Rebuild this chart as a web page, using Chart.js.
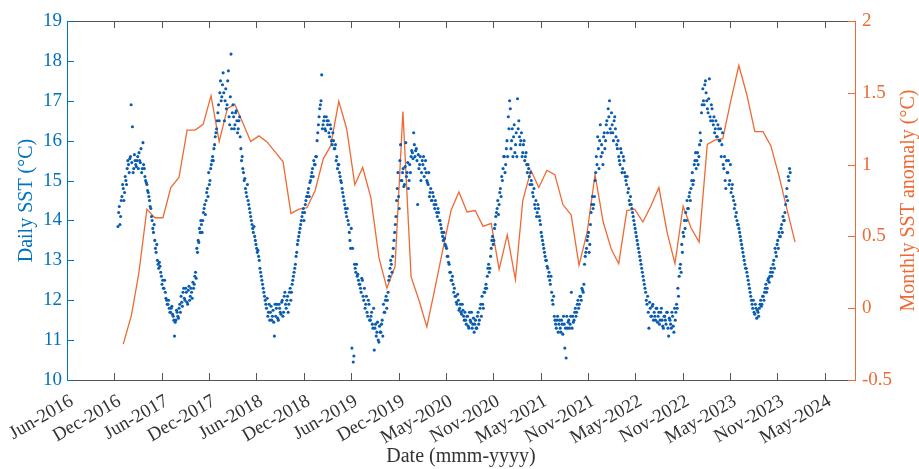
<!DOCTYPE html>
<html><head><meta charset="utf-8">
<script src="https://cdn.jsdelivr.net/npm/chart.js@4.4.1/dist/chart.umd.min.js"></script>
<style>html,body{margin:0;padding:0;background:#fff}#wrap{width:919px;height:469px}</style>
</head><body><div id="wrap"><canvas id="c" width="919" height="469"></canvas></div>
<script>
// ---------------- data ----------------
const tickLabels = ['Jun-2016','Dec-2016','Jun-2017','Dec-2017','Jun-2018','Dec-2018','Jun-2019','Dec-2019',
  'May-2020','Nov-2020','May-2021','Nov-2021','May-2022','Nov-2022','May-2023','Nov-2023','May-2024'];

// daily SST (°C): first sample date, sampling step (days); second set sampled midway between the first
const dailyStart = [2016, 12, 12];
const dailyStepDays = 5;
const dailySST = [
13.85,14.35,14.1,14.6,14.8,14.7,15.0,15.3,
15.4,15.55,16.9,16.35,15.3,15.5,15.35,15.6,
15.7,15.45,15.2,15.95,15.3,15.0,14.9,14.7,
14.5,14.3,14.0,13.7,13.5,13.2,13.0,12.8,
12.85,12.6,12.5,12.3,12.2,12.0,11.9,11.8,
11.7,11.85,11.6,11.1,11.5,11.7,11.55,11.9,
12.1,11.85,12.3,12.0,12.2,11.9,12.35,12.1,
12.2,12.45,12.4,12.7,13.3,13.5,13.8,14.0,
13.7,14.2,14.4,14.5,14.8,15.2,15.0,15.4,
15.6,15.8,16.1,16.3,16.7,16.5,17.5,17.1,
17.7,16.5,17.3,16.9,17.75,16.4,18.17,16.7,
16.6,16.4,16.75,16.2,16.5,16.1,15.5,15.3,
15.0,14.8,14.6,14.5,14.3,14.1,13.9,13.7,
13.6,13.4,13.2,13.1,12.8,12.6,12.4,12.2,
12.0,11.8,11.6,11.9,11.7,11.5,11.75,11.1,
11.6,11.9,11.5,11.8,11.65,12.0,11.7,12.2,
11.8,12.1,11.9,12.3,12.2,12.5,12.7,12.9,
13.2,13.5,13.7,13.9,14.1,14.3,14.2,14.5,
14.6,14.8,14.95,15.1,15.3,15.5,15.4,15.6,
16.2,16.6,16.9,17.65,16.4,16.6,16.25,16.5,
16.5,16.1,16.3,15.9,16.0,15.8,15.5,15.3,
15.4,15.1,14.95,14.7,14.5,14.3,14.1,14.0,
13.7,13.3,10.8,10.45,12.9,12.7,12.6,12.5,
12.4,12.2,12.5,12.0,11.8,12.1,11.6,11.9,
11.5,11.7,11.3,10.75,11.4,11.2,11.0,11.35,
11.2,11.5,11.9,11.7,12.1,12.0,12.5,12.8,
12.9,13.1,13.5,13.9,14.5,15.2,14.3,15.9,
15.0,15.3,14.9,15.95,15.2,14.8,15.4,15.6,
15.7,16.2,15.6,15.8,14.4,15.3,15.6,15.2,
15.4,15.1,15.5,15.0,14.9,14.6,14.8,14.5,
14.6,14.3,14.4,14.1,14.2,14.0,13.8,13.6,
13.7,13.4,13.3,13.1,12.9,12.7,12.5,12.4,
12.3,12.1,11.9,12.0,11.8,11.7,11.9,11.6,
11.7,11.4,11.6,11.3,11.5,11.7,11.4,11.2,
11.5,11.3,11.7,11.5,11.9,12.1,11.8,12.2,
12.4,12.6,12.9,12.8,13.3,13.6,13.5,13.9,
14.2,14.5,14.4,14.8,15.1,15.3,15.6,15.4,
16.0,16.6,17.0,15.8,16.3,16.1,15.7,16.2,
17.05,16.5,15.9,16.2,15.7,16.0,15.6,15.4,
15.4,15.1,15.2,14.9,14.6,14.4,14.5,14.2,
14.3,14.0,13.7,13.5,13.3,13.1,13.0,12.8,
12.7,12.4,12.2,11.9,11.6,11.4,11.5,11.2,
11.5,11.2,11.4,11.6,10.8,10.55,11.3,11.5,
11.4,12.2,11.6,11.5,11.8,11.7,12.0,11.9,
12.1,12.3,12.2,12.9,13.2,13.5,13.7,13.4,
14.2,14.6,14.4,15.0,15.6,16.1,15.3,16.4,
15.9,15.4,16.2,16.0,16.5,16.8,17.0,16.2,
16.4,16.0,16.6,16.1,15.8,15.6,15.4,15.7,
15.3,15.5,15.1,14.9,14.7,14.5,14.6,14.3,
14.1,13.9,13.7,13.5,13.3,13.1,12.9,12.7,
12.5,12.3,12.0,12.1,11.3,11.8,11.6,11.9,
11.7,11.5,11.8,11.6,11.4,11.7,11.5,11.3,
11.6,11.4,11.7,11.1,11.5,11.3,11.6,11.2,
11.5,11.9,12.3,12.6,12.9,13.4,13.7,14.0,
14.2,14.5,14.3,14.7,14.8,15.2,15.0,15.5,
15.3,15.7,15.6,16.2,16.7,17.3,16.9,17.5,
17.0,16.7,17.55,16.5,16.8,16.4,16.2,16.5,
16.1,16.3,16.0,15.6,16.2,15.3,15.0,15.5,
15.2,14.9,15.4,14.8,14.6,14.3,14.1,14.0,
13.9,13.7,13.5,13.3,13.1,12.9,12.8,12.6,
12.4,12.2,12.0,11.8,11.7,11.9,11.55,11.7,
11.8,12.0,11.9,12.1,12.2,12.4,12.3,12.55,
12.6,12.8,12.7,13.0,13.3,13.1,13.5,13.7,
13.6,13.9,14.1,14.0,14.4,14.8,15.1,15.3
];
const dailySSTMid = [
14.2,13.9,14.5,14.9,14.5,15.1,14.9,15.5,
15.2,15.6,15.45,15.2,15.65,15.4,15.5,15.3,
15.5,15.8,15.3,15.4,15.1,14.95,14.75,14.6,
14.35,14.1,13.8,13.9,13.3,13.4,12.9,12.95,
12.7,12.4,12.3,12.5,12.05,11.9,12.0,11.7,
11.8,11.65,11.5,11.45,11.75,11.6,11.8,11.7,
11.95,12.2,12.05,12.3,11.95,12.25,12.0,12.3,
12.05,12.3,12.6,12.55,13.2,13.45,13.7,13.9,
14.0,14.3,14.15,14.7,14.6,14.9,15.3,15.5,
15.5,15.9,16.2,16.5,16.9,17.2,17.0,17.4,
17.2,17.0,16.8,17.5,16.6,17.1,16.3,16.9,
16.3,16.7,16.5,16.3,16.6,15.8,15.6,15.2,
15.05,14.7,14.9,14.4,14.2,14.0,13.8,13.85,
13.5,13.3,13.25,13.0,12.7,12.5,12.3,12.1,
11.9,12.05,11.7,11.5,11.85,11.6,11.45,11.9,
11.8,11.55,11.9,11.7,11.95,11.6,12.1,11.9,
12.0,11.7,12.2,12.0,12.4,12.6,12.8,13.1,
13.4,13.6,13.8,14.0,14.2,14.0,14.4,14.6,
14.7,14.6,15.0,15.2,15.1,15.4,15.6,16.0,
16.4,16.8,17.0,16.3,16.5,16.3,16.6,16.4,
16.2,16.4,16.0,16.2,15.8,15.9,15.6,15.4,
15.2,15.0,14.8,14.6,14.4,14.2,14.3,13.9,
13.5,13.8,13.3,10.6,12.8,12.9,12.65,12.4,
12.3,12.55,12.1,12.3,11.9,11.7,12.0,11.5,
11.6,11.4,11.8,11.3,11.1,11.45,10.95,11.2,
11.4,11.1,11.7,12.0,11.8,12.2,12.6,13.0,
12.7,13.3,13.7,14.1,14.8,14.6,15.5,15.0,
15.2,14.85,15.35,15.1,15.45,15.0,15.2,15.75,
15.55,15.9,15.75,15.5,15.65,15.4,15.0,15.5,
15.6,15.3,15.2,14.95,15.2,14.7,14.5,14.7,
14.4,14.5,14.2,14.3,14.0,13.9,13.7,13.5,
13.55,13.35,13.1,12.95,12.7,12.5,12.6,12.2,
12.1,11.95,12.15,11.75,11.9,11.65,11.75,11.5,
11.5,11.6,11.35,11.7,11.45,11.3,11.55,11.4,
11.3,11.6,11.4,11.8,11.6,11.9,12.2,12.3,
12.3,12.8,12.7,13.1,13.5,13.4,13.8,14.1,
14.3,14.15,14.7,14.6,15.0,15.6,15.2,15.8,
15.6,16.3,16.8,16.0,15.6,16.4,15.9,15.6,
16.3,16.1,16.0,15.6,15.9,15.5,15.7,15.2,
15.3,14.9,15.0,14.7,14.8,14.3,14.1,14.4,
14.1,13.9,13.6,13.4,13.2,13.0,12.85,12.6,
12.5,12.6,12.0,12.1,11.5,11.3,11.6,11.4,
11.3,11.5,11.15,11.4,11.3,11.6,11.45,11.3,
11.6,11.3,11.45,11.7,11.6,11.9,11.8,12.1,
12.0,12.25,12.4,13.1,13.3,13.6,13.2,13.9,
14.4,14.3,14.6,15.2,15.4,15.8,16.0,15.6,
15.7,16.1,15.8,16.4,16.2,16.6,16.3,16.7,
16.2,16.5,16.3,15.9,16.0,15.5,15.8,15.2,
15.6,15.2,15.0,15.1,14.8,14.4,14.4,14.2,
14.0,13.8,13.6,13.4,13.2,13.0,12.8,12.6,
12.4,12.2,11.9,11.7,11.95,11.6,11.85,11.5,
11.6,11.8,11.45,11.7,11.5,11.8,11.35,11.6,
11.5,11.7,11.3,11.55,11.4,11.7,11.35,11.8,
11.7,11.8,12.1,12.8,12.7,13.2,13.6,13.8,
14.0,14.3,14.6,14.5,15.0,14.9,15.4,15.7,
15.5,15.4,15.9,16.0,16.9,17.0,17.4,17.2,
16.8,17.05,16.6,16.9,16.5,16.6,16.3,16.1,
16.4,16.0,16.3,15.9,15.4,15.6,14.8,15.2,
15.5,15.0,14.7,14.9,14.5,14.4,14.2,13.9,
13.8,13.6,13.4,13.2,13.0,12.8,12.7,12.5,
12.3,12.1,11.9,12.0,11.65,11.8,11.75,11.6,
11.9,11.85,12.1,12.0,12.3,12.2,12.5,12.45,
12.7,12.6,12.9,12.8,13.2,13.4,13.3,13.6,
13.8,13.7,14.0,14.2,14.6,14.5,15.0,15.2
];

// monthly SST anomaly (°C), Jan-2017 onwards
const monthlyStart = [2017, 1];
const monthlyAnomaly = [
-0.25,-0.05,0.24,0.69,0.63,0.63,0.84,0.91,1.24,1.24,1.28,1.48,
1.16,1.39,1.42,1.29,1.16,1.20,1.16,1.09,1.02,0.66,0.69,0.70,
0.82,1.04,1.13,1.44,1.25,0.86,0.98,0.77,0.35,0.14,0.29,1.37,
0.22,0.05,-0.13,0.14,0.41,0.68,0.81,0.67,0.68,0.57,0.59,0.27,
0.51,0.20,0.75,0.96,0.84,0.96,0.93,0.72,0.65,0.30,0.53,0.93,
0.60,0.41,0.31,0.68,0.69,0.60,0.71,0.84,0.53,0.31,0.71,0.56,
0.46,1.14,1.17,1.18,1.44,1.69,1.49,1.23,1.23,1.13,0.92,0.69,
0.46
];

// ---------------- helpers ----------------
const DAY = 864e5;
const ORIGIN = Date.UTC(2016, 5, 1);
const dayOf = (y, m, d) => (Date.UTC(y, m - 1, d) - ORIGIN) / DAY;
const X_MAX = 2998;          // axis span in days
const TICK_DAYS = 180.2;     // spacing of date ticks

const BLUE = '#0072BD', DOT = '#0a5cb0', ORANGE = '#EE6A34', GREY = '#333333';
const SERIF = '"Liberation Serif", "Times New Roman", serif';

const d0 = dayOf(dailyStart[0], dailyStart[1], dailyStart[2]);
const dailyPts = dailySST.map((v, i) => ({x: d0 + i * dailyStepDays, y: v}))
  .concat(dailySSTMid.map((v, i) => ({x: d0 + (i + 0.5) * dailyStepDays, y: v})));
const monthlyPts = monthlyAnomaly.map((v, i) => ({x: dayOf(monthlyStart[0], monthlyStart[1] + i, 1), y: v}));

const frame = {
  id: 'frame',
  afterDatasetsDraw(chart) {
    const {ctx, chartArea: a, scales: {x, y, y1}} = chart;
    const L = 7;
    ctx.save();
    ctx.lineWidth = 1;
    const seg = (x1, y1_, x2, y2) => { ctx.beginPath(); ctx.moveTo(x1, y1_); ctx.lineTo(x2, y2); ctx.stroke(); };
    ctx.strokeStyle = '#555555';
    seg(a.left, a.top + 0.5, a.right, a.top + 0.5);
    seg(a.left, a.bottom + 0.5, a.right, a.bottom + 0.5);
    x.ticks.forEach(t => {
      const p = Math.round(x.getPixelForValue(t.value)) + 0.5;
      seg(p, a.bottom, p, a.bottom - L);
      seg(p, a.top, p, a.top + L);
    });
    ctx.strokeStyle = BLUE;
    seg(a.left + 0.5, a.top, a.left + 0.5, a.bottom + 1);
    y.ticks.forEach(t => {
      const p = Math.round(y.getPixelForValue(t.value)) + 0.5;
      seg(a.left, p, a.left + L, p);
    });
    ctx.strokeStyle = ORANGE;
    seg(a.right + 0.5, a.top, a.right + 0.5, a.bottom + 1);
    y1.ticks.forEach(t => {
      const p = Math.round(y1.getPixelForValue(t.value)) + 0.5;
      seg(a.right - L, p, a.right, p);
    });
    // right axis title (reads bottom-to-top)
    ctx.fillStyle = ORANGE;
    ctx.font = '20px ' + SERIF;
    ctx.textAlign = 'center';
    ctx.textBaseline = 'middle';
    ctx.translate(909, (a.top + a.bottom) / 2);
    ctx.rotate(-Math.PI / 2);
    ctx.fillText('Monthly SST anomaly (°C)', 0, 0);
    ctx.restore();
  }
};

new Chart(document.getElementById('c'), {
  type: 'line',
  data: {
    datasets: [
      {label: 'Daily SST', data: dailyPts, yAxisID: 'y', showLine: false,
       pointRadius: 1.55, pointHoverRadius: 1.55, pointBackgroundColor: DOT, pointBorderWidth: 0, order: 0},
      {label: 'Monthly SST anomaly', data: monthlyPts, yAxisID: 'y1', borderColor: ORANGE, borderWidth: 1.3,
       pointRadius: 0, tension: 0, fill: false, order: 1}
    ]
  },
  options: {
    responsive: false, animation: false, devicePixelRatio: 1,
    layout: {padding: {top: 21, left: 0, right: 0, bottom: 0}},
    plugins: {legend: {display: false}, tooltip: {enabled: false}},
    scales: {
      x: {
        type: 'linear', position: 'bottom', min: 0, max: X_MAX,
        grid: {display: false, drawTicks: false}, border: {display: false},
        afterBuildTicks: s => { s.ticks = tickLabels.map((_, i) => ({value: i * TICK_DAYS})); },
        afterFit: s => { s.height = 89; s.paddingLeft = 0; s.paddingRight = 0; },
        ticks: {autoSkip: false, minRotation: 30, maxRotation: 30, padding: 10, labelOffset: 5, color: GREY,
          font: {family: SERIF, size: 19},
          callback: (v, i) => tickLabels[i]},
        title: {display: true, text: 'Date (mmm-yyyy)', color: GREY, font: {family: SERIF, size: 20},
          padding: {top: 0, bottom: 0}}
      },
      y: {
        position: 'left', min: 10, max: 19,
        grid: {display: false, drawTicks: false}, border: {display: false},
        afterFit: s => { s.width = 67; s.paddingTop = 0; s.paddingBottom = 0; },
        ticks: {stepSize: 1, padding: 5, color: BLUE, font: {family: SERIF, size: 19}},
        title: {display: true, text: 'Daily SST (°C)', color: BLUE, font: {family: SERIF, size: 20},
          padding: {top: 15, bottom: 0}}
      },
      y1: {
        position: 'right', min: -0.5, max: 2,
        grid: {display: false, drawTicks: false}, border: {display: false},
        afterFit: s => { s.width = 64; s.paddingTop = 0; s.paddingBottom = 0; },
        ticks: {stepSize: 0.5, padding: 7, color: ORANGE, font: {family: SERIF, size: 19},
          callback: v => String(Math.round(v * 10) / 10)}
      }
    }
  },
  plugins: [frame]
});
</script>
</body></html>
